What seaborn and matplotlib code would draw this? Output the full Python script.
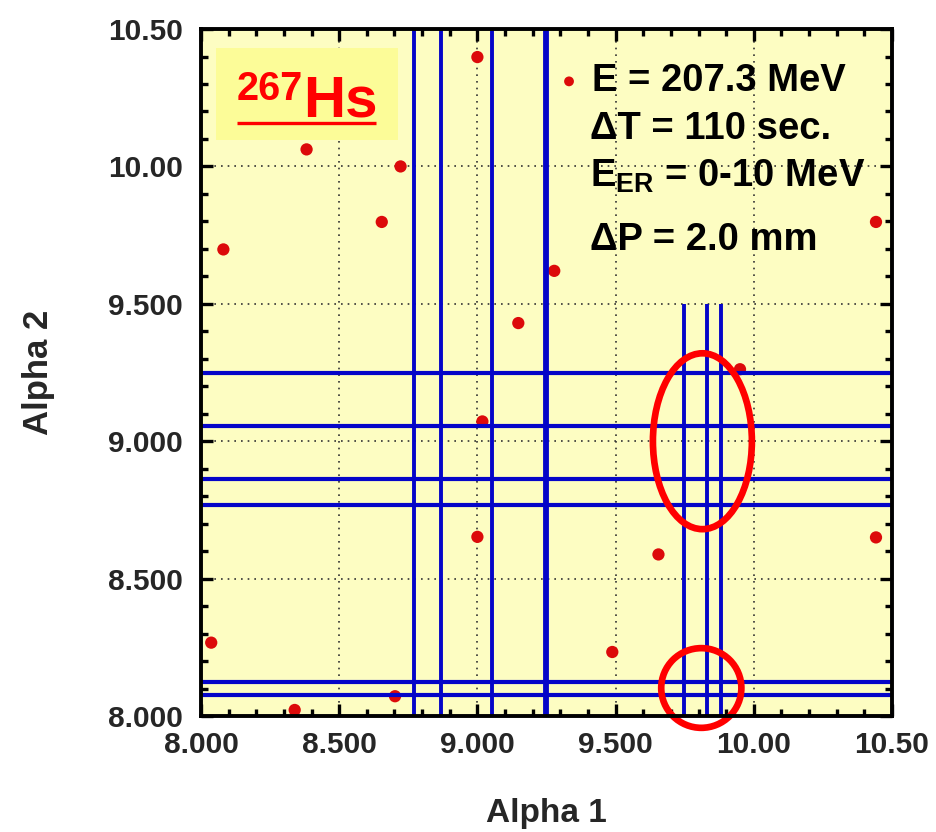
import matplotlib
matplotlib.use("Agg")
import matplotlib.pyplot as plt
import pandas as pd
import seaborn as sns
from matplotlib.patches import Ellipse, Rectangle

# observed alpha-alpha correlations (MeV)
alpha1 = [8.081, 8.382, 8.654, 8.722, 9.000, 9.278, 9.148, 10.442,
          9.018, 9.000, 8.037, 8.702, 8.339, 9.950, 9.655, 9.488, 10.442]
alpha2 = [9.698, 10.062, 9.798, 10.000, 10.398, 9.620, 9.430, 9.798,
          9.072, 8.652, 8.267, 8.072, 8.022, 9.262, 8.588, 8.233, 8.650]

# known alpha lines (MeV)
full_v = [8.771, 8.867, 9.053]
thick_v = [9.248]
full_h = [9.247, 9.055, 8.862, 8.767, 8.125, 8.076]
short_v = [9.749, 9.830, 9.880]
short_v_range = (8.0, 9.5)

# circled regions: (x, y, width, height)
circled = [(9.814, 9.000, 0.358, 0.640), (9.810, 8.102, 0.290, 0.290)]

ticks = [8.0, 8.5, 9.0, 9.5, 10.0, 10.5]
tick_labels = ["8.000", "8.500", "9.000", "9.500", "10.00", "10.50"]

info_lines = ["\u0394T = 110 sec.", r"E$_{\mathrm{ER}}$ = 0-10 MeV", "\u0394P = 2.0 mm"]

sns.set_theme(style="ticks")
plt.rcParams["font.family"] = ["Liberation Sans", "DejaVu Sans"]
plt.rcParams["font.weight"] = "bold"
plt.rcParams["mathtext.fontset"] = "custom"
plt.rcParams["mathtext.rm"] = "Liberation Sans:bold"
plt.rcParams["mathtext.it"] = "Liberation Sans:bold"
plt.rcParams["mathtext.bf"] = "Liberation Sans:bold"

fig = plt.figure(figsize=(9.37, 8.32), dpi=100)
ax = fig.add_axes([0.2145, 0.1394, 0.7375, 0.8257])
ax.set_facecolor("#fdfdc2")

df = pd.DataFrame({"alpha1": alpha1, "alpha2": alpha2})
sns.scatterplot(data=df, x="alpha1", y="alpha2", ax=ax, s=78, color="#dc0a0a",
                edgecolor="none", linewidth=0, zorder=3, label="E = 207.3 MeV")

blue = "#0505c8"
for x in full_v:
    ax.axvline(x, color=blue, lw=2.8, zorder=4)
for x in thick_v:
    ax.axvline(x, color=blue, lw=4.2, zorder=4)
for y in full_h:
    ax.axhline(y, color=blue, lw=3.0, zorder=4)
ax.vlines(short_v, short_v_range[0], short_v_range[1], color=blue, lw=2.8, zorder=4)

for cx, cy, w, h in circled:
    ax.add_patch(Ellipse((cx, cy), w, h, fill=False, edgecolor="#ff0000",
                         lw=4.8, zorder=6, clip_on=False))

ax.set_xlim(8.0, 10.5)
ax.set_ylim(8.0, 10.5)
ax.set_xticks(ticks)
ax.set_xticklabels(tick_labels)
ax.set_yticks(ticks)
ax.set_yticklabels(tick_labels)
ax.set_xticks([8.0 + 0.1 * i for i in range(26)], minor=True)
ax.set_yticks([8.0 + 0.1 * i for i in range(26)], minor=True)
ax.tick_params(which="both", direction="in", top=True, right=True, width=2.4,
               color="black", labelsize=21.5)
ax.tick_params(which="major", length=8.5)
ax.tick_params(which="minor", length=4.8)
ax.tick_params(axis="x", pad=11)
ax.tick_params(axis="y", pad=13)
for lab in ax.get_xticklabels() + ax.get_yticklabels():
    lab.set_fontweight("bold")
for sp in ax.spines.values():
    sp.set_linewidth(2.8)
    sp.set_color("black")
    sp.set_zorder(7)

ax.grid(which="major", linestyle=(0, (1, 3)), color="#333333", lw=1.2)
ax.set_axisbelow(True)

ax.set_xlabel("Alpha 1", fontsize=24, fontweight="bold", labelpad=28)
ax.set_ylabel("Alpha 2", fontsize=25, fontweight="bold", labelpad=38)

# nuclide label box
ax.add_patch(Rectangle((0.0217, 0.839), 0.2633, 0.133, transform=ax.transAxes,
                       facecolor="#fcfc98", edgecolor="none", zorder=2))
ax.text(0.0521, 0.8967, "267", transform=ax.transAxes, color="#ff0000",
        fontsize=28.5, fontweight="bold", va="baseline", ha="left", zorder=5)
ax.text(0.148, 0.8723, "Hs", transform=ax.transAxes, color="#ff0000",
        fontsize=42, fontweight="bold", va="baseline", ha="left", zorder=5)
ax.plot([0.0521, 0.2528], [0.8627, 0.8627], transform=ax.transAxes,
        color="#ff0000", lw=2.4, zorder=5, solid_capstyle="butt")

# run conditions
leg = ax.legend(loc="upper left", bbox_to_anchor=(0.516, 0.950), frameon=False,
                handlelength=0.6, handletextpad=0.3, borderpad=0,
                borderaxespad=0, markerscale=0.8, prop={"weight": "bold", "size": 27.5})
for t in leg.get_texts():
    t.set_color("black")
for txt, yb in zip(info_lines, [0.840, 0.771, 0.679]):
    ax.text(0.563, yb, txt, transform=ax.transAxes, fontsize=27.5,
            fontweight="bold", va="baseline", ha="left", color="black", zorder=5)

fig.savefig("out.png", dpi=100)
